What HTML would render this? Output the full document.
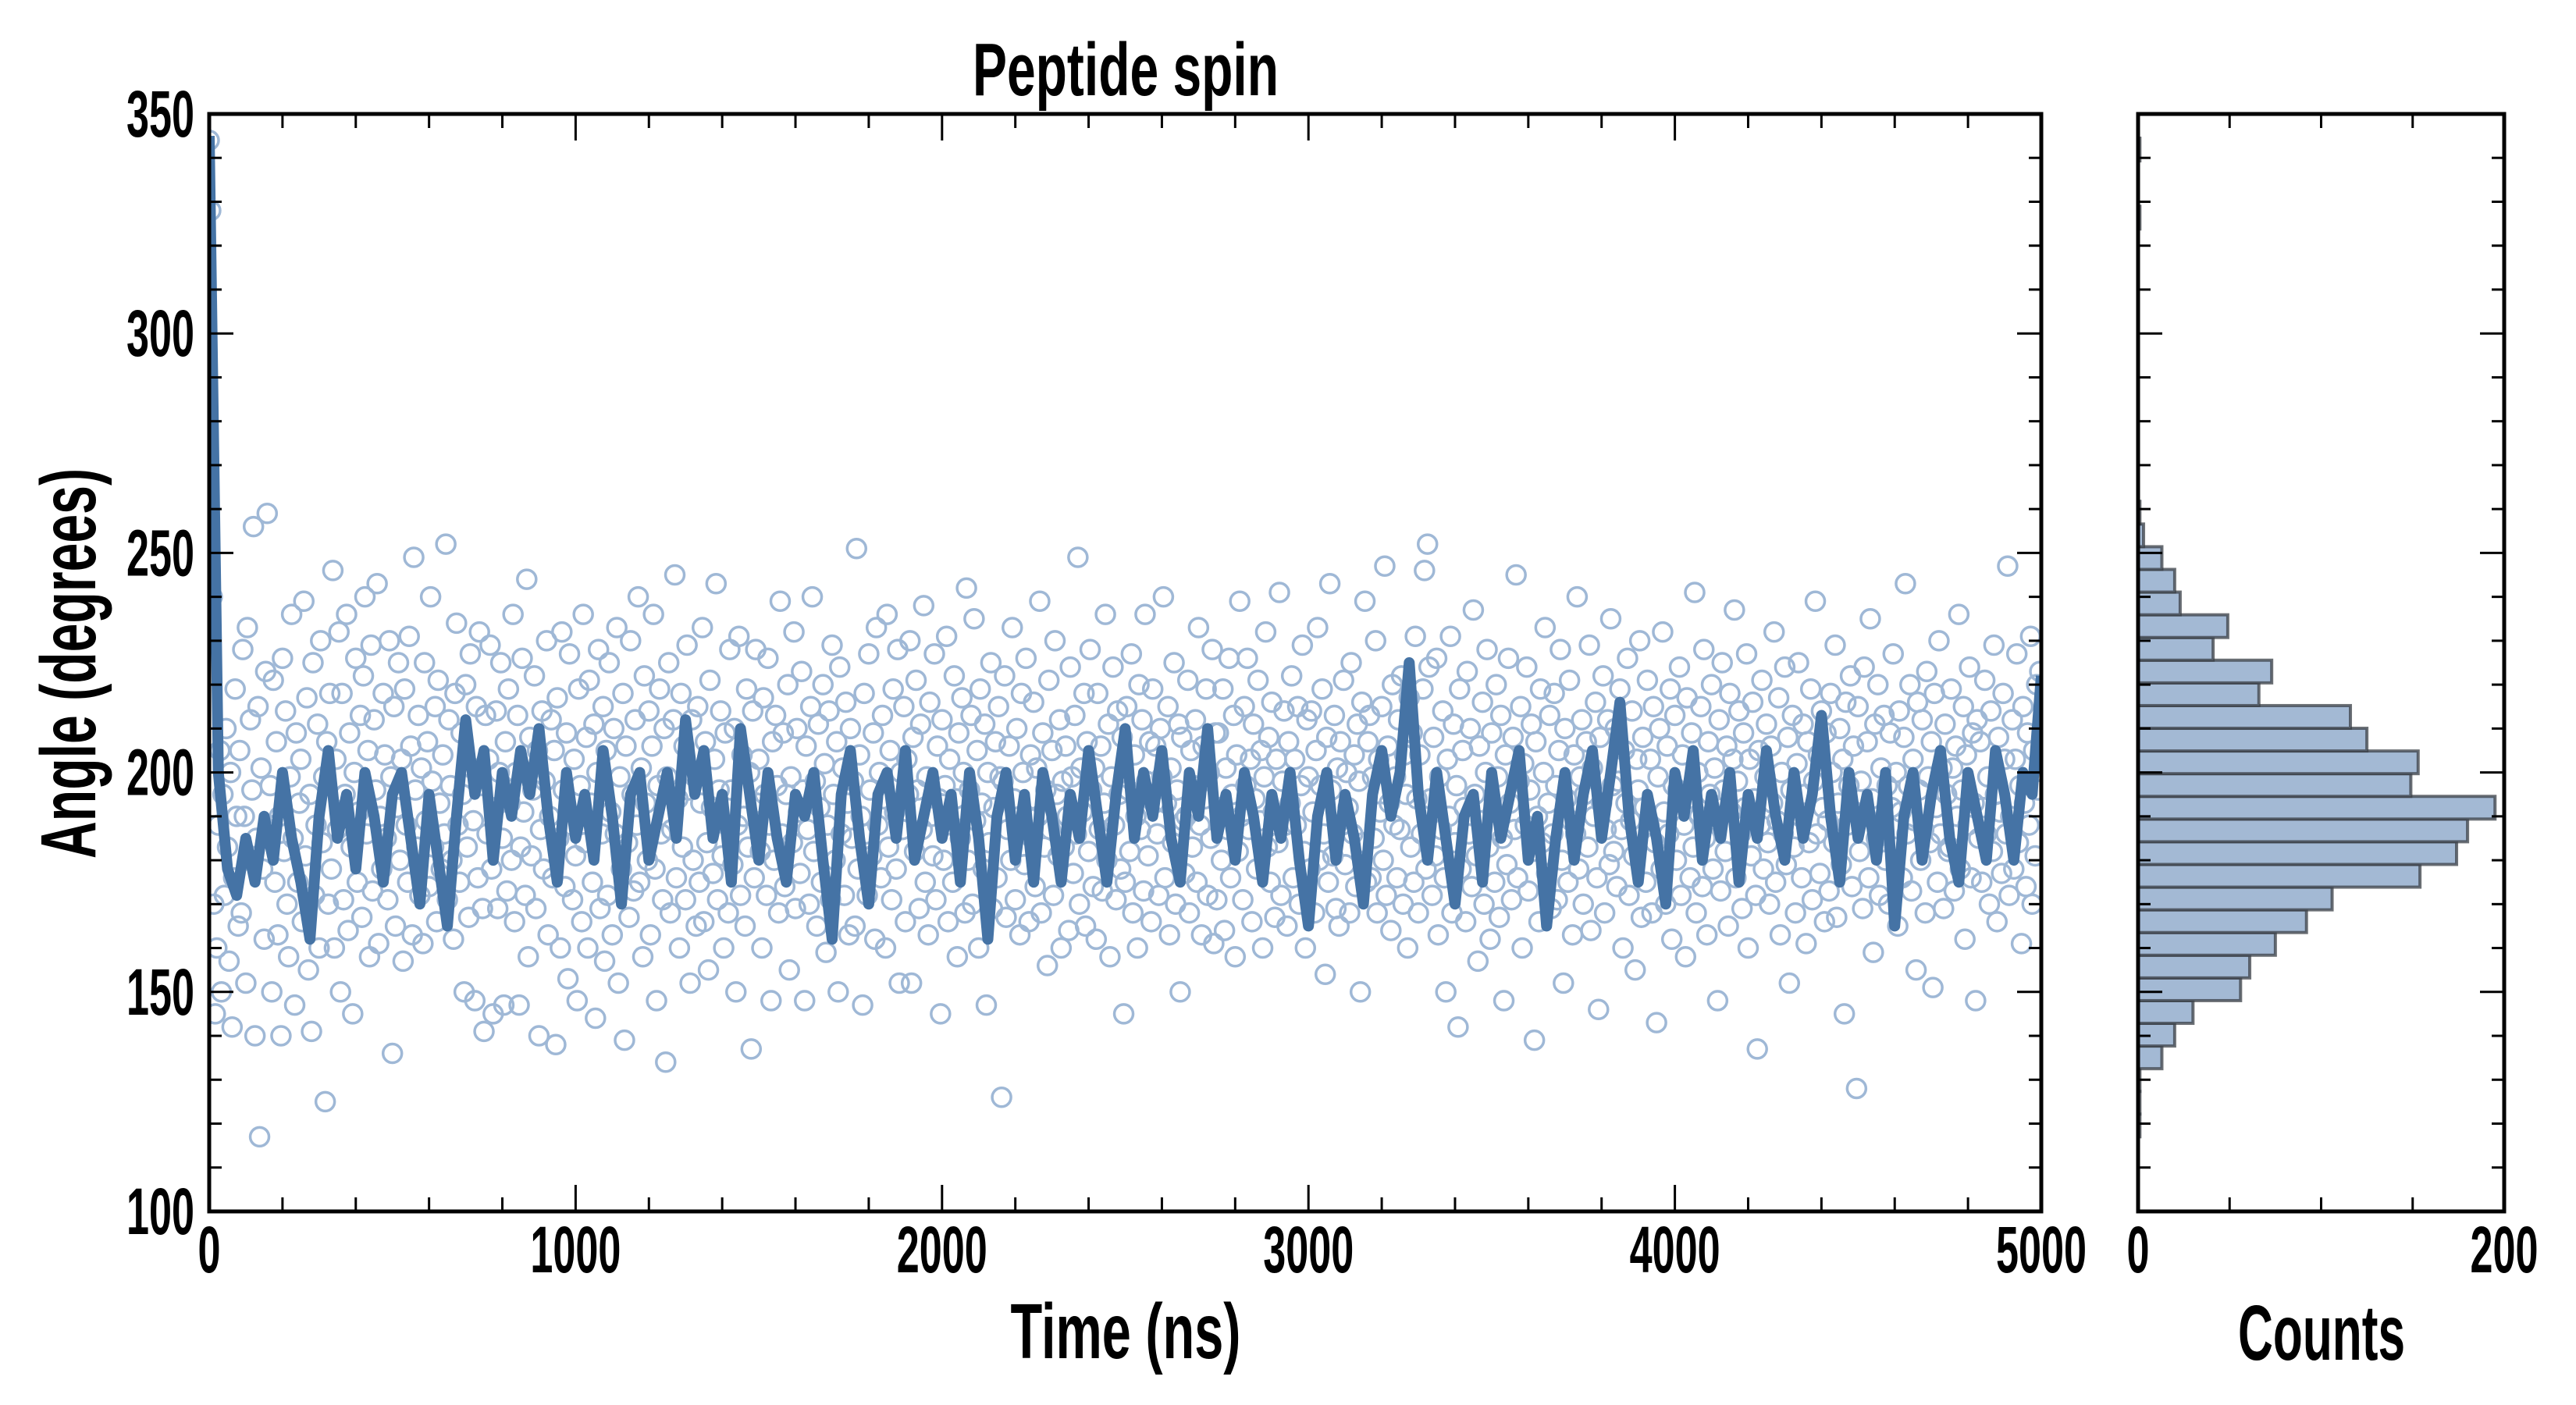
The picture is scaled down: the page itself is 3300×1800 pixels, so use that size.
<!DOCTYPE html>
<html><head><meta charset="utf-8"><title>Peptide spin</title>
<style>
html,body{margin:0;padding:0;background:#fff;}
svg{display:block;}
text{font-family:"Liberation Sans Narrow","Liberation Sans",sans-serif;font-weight:bold;fill:#000;}
</style></head>
<body>
<svg id="chart" width="3300" height="1800" viewBox="0 0 3300 1800" xmlns="http://www.w3.org/2000/svg">
<rect width="3300" height="1800" fill="#fff"/>
<g id="main"></g>
<g id="hist"></g>
<g id="labels">
<text x="1442" y="122" font-size="96" text-anchor="middle" textLength="392" lengthAdjust="spacingAndGlyphs">Peptide spin</text>
<text x="1442" y="1740" font-size="100" text-anchor="middle" textLength="295" lengthAdjust="spacingAndGlyphs">Time (ns)</text>
<text x="2974" y="1742" font-size="100" text-anchor="middle" textLength="214" lengthAdjust="spacingAndGlyphs">Counts</text>
<text transform="translate(122,850) rotate(-90)" font-size="100" text-anchor="middle" textLength="500" lengthAdjust="spacingAndGlyphs">Angle (degrees)</text>
</g>
</svg>
<script>
const scatterValues = [
344,328,240,170,145,160,188,205,150,195,172,210,183,157,200,142,176,219,190,165,
205,168,228,190,152,233,180,212,196,256,140,185,215,117,201,178,162,223,259,188,
197,150,221,175,207,163,190,140,226,182,214,170,158,199,236,185,147,209,175,193,
203,166,239,181,217,155,195,141,225,172,188,211,160,230,184,199,125,207,170,218,
178,246,160,203,187,232,150,218,171,195,236,164,209,183,145,200,226,175,191,213,
167,222,240,186,205,158,229,173,212,196,243,161,190,178,218,204,185,171,230,199,
136,215,165,192,225,180,203,157,219,188,175,231,206,163,249,196,183,213,172,201,
161,225,189,207,174,240,198,183,215,166,221,193,178,204,186,252,171,212,197,180,
162,218,234,188,175,209,195,150,220,183,167,227,201,189,148,215,176,232,197,169,
141,213,186,203,229,178,145,192,214,169,200,225,185,147,207,173,219,193,180,236,
166,200,213,147,183,226,191,172,244,158,208,181,196,222,169,205,140,187,214,178,
198,230,163,190,212,176,205,138,217,185,160,232,196,174,209,153,227,188,171,203,
181,148,219,197,166,236,184,208,160,221,193,175,211,144,200,228,169,186,215,157,
205,172,225,191,163,210,186,233,152,199,178,218,139,206,184,167,230,195,173,212,
188,240,175,201,158,222,193,180,214,163,206,236,178,148,197,219,186,171,210,134,
199,225,168,187,212,245,176,194,160,218,183,206,171,229,196,152,212,180,199,165,
215,175,193,233,166,207,184,155,221,192,177,203,243,171,196,214,181,160,209,188,
168,228,196,179,210,150,188,231,172,204,190,165,219,183,200,137,214,176,228,193,
203,182,160,217,195,172,226,188,148,207,180,213,197,168,239,186,209,174,195,220,
155,199,184,232,169,210,191,177,223,196,148,206,187,170,215,240,182,198,165,211,
192,175,220,202,159,188,214,171,229,195,180,207,150,224,186,201,172,216,193,163,
210,185,198,165,251,178,204,190,147,218,186,172,227,196,181,209,162,233,188,200,
176,213,194,160,236,183,205,171,219,191,178,228,152,200,187,215,166,203,195,230,
152,208,182,221,196,169,211,187,238,175,199,163,216,190,181,227,171,206,194,145,
212,180,197,231,166,203,188,175,222,194,158,209,185,217,200,168,242,180,196,213,
170,235,189,205,160,219,193,178,211,147,200,184,225,169,192,207,176,215,199,126,
198,222,167,187,206,180,233,194,171,210,188,163,218,200,179,226,190,166,204,185,
216,174,201,190,239,168,209,183,196,156,221,187,205,172,230,195,181,212,160,198,
183,206,190,164,224,199,177,213,186,249,170,201,191,218,165,207,182,228,196,174,
201,162,218,187,206,173,193,236,180,211,158,199,224,188,171,214,195,178,208,145,
175,215,196,182,227,168,204,190,160,220,187,212,173,236,198,181,207,166,219,193,
206,186,172,210,199,240,176,193,215,163,201,184,225,170,196,211,150,208,189,177,
190,221,168,205,183,197,212,175,233,188,163,206,194,219,172,200,185,228,161,209,
171,209,192,180,219,164,201,187,226,176,195,213,158,204,182,239,190,171,215,197,
226,187,203,166,211,194,178,221,189,205,160,199,232,183,208,175,216,191,167,203,
184,241,172,198,214,188,165,207,193,222,176,203,188,215,170,197,229,182,160,212,
199,178,214,191,168,205,233,180,197,219,186,154,208,175,243,196,181,213,169,201,
165,207,188,221,179,200,192,168,225,186,204,174,211,198,150,216,184,239,175,207,
213,176,199,185,230,168,203,191,215,180,247,172,206,193,164,220,188,199,176,212,
187,222,170,204,195,160,217,183,209,175,231,194,168,204,186,219,246,178,252,224,
194,172,208,181,226,163,199,187,214,176,150,203,190,231,168,211,184,197,142,219,
178,205,192,166,223,186,210,174,237,195,181,157,206,189,216,170,200,228,183,162,
209,191,175,220,199,167,213,185,148,204,179,226,193,171,208,187,245,176,198,215,
160,202,188,224,173,196,211,182,139,207,190,166,219,184,200,233,177,193,213,169,
186,218,197,171,205,228,180,152,210,194,175,221,189,163,204,186,240,178,199,212,
170,195,207,183,229,164,201,190,216,176,146,208,193,222,168,187,212,179,235,197,
182,210,174,198,219,187,160,205,193,226,172,189,214,181,155,203,196,230,167,208,
192,175,221,188,203,168,215,184,143,199,210,178,232,191,170,206,186,219,162,197,
213,180,196,224,172,204,188,158,217,194,176,209,183,241,168,200,190,215,174,228,
185,163,207,195,220,178,201,189,148,212,173,225,196,182,206,165,218,191,203,237,
176,198,214,186,169,209,192,227,160,203,181,216,194,172,137,205,188,221,178,199,
211,184,170,206,193,232,175,189,217,163,200,186,224,179,208,152,196,213,183,168,
202,225,190,176,211,195,161,207,184,219,171,198,239,186,204,177,214,192,166,209,
189,173,218,200,184,229,167,193,210,179,203,145,216,188,197,222,174,206,191,128,
215,182,198,169,224,190,207,176,235,194,159,211,185,220,172,201,188,213,180,197,
170,209,192,227,183,200,165,214,191,176,208,243,186,197,220,173,203,189,155,216,
196,180,212,187,168,223,199,184,207,151,218,192,175,230,186,201,169,211,195,182,
183,219,201,173,206,190,236,178,196,215,162,204,188,224,176,209,193,148,212,185,
207,175,192,221,186,199,170,214,182,229,195,166,208,191,177,218,203,186,247,172,
190,212,178,203,227,184,197,161,215,193,174,209,188,231,170,205,181,220,196,223
];
const lineValues = [
345,200,178,172,185,175,190,180,200,185,175,162,190,205,185,195,178,200,190,175,
195,200,185,170,195,180,165,190,212,195,205,180,200,190,205,195,210,190,175,200,
185,195,180,205,190,170,195,200,180,190,200,185,212,195,205,185,195,175,210,195,
180,200,185,175,195,190,200,180,162,195,205,185,170,195,200,185,205,180,190,200,
185,195,175,200,185,162,190,200,180,195,175,200,190,175,195,185,205,190,175,195,
210,185,200,190,205,185,175,200,190,210,185,195,180,200,190,175,195,185,200,180,
165,190,200,180,195,185,170,195,205,190,200,225,195,180,200,185,170,190,195,175,
200,185,195,205,180,190,165,185,200,180,195,205,185,200,216,190,175,195,185,170,
200,190,205,180,195,185,200,175,195,185,205,190,180,200,185,195,213,190,175,200,
185,195,180,200,165,190,200,180,195,205,185,175,200,190,180,205,195,180,200,195,
222
];
const histCounts = [1,1,1,13,20,30,56,61,75,92,106,154,174,180,195,149,153,125,116,66,73,41,49,23,20,13,3,1,0,0,0,0,0,0,0,0,0,0,0,0,1,0,0,1];
const binStart = 117;
const binWidth = 5.17;
const xTickLabels = [0,1000,2000,3000,4000,5000];
const yTickLabels = [100,150,200,250,300,350];
const histTickLabels = [0,200];

const NS = "http://www.w3.org/2000/svg";
const L = 268, R = 2615, T = 146, B = 1552;
const HL = 2739, HR = 3208;
const xScale = t => L + (t / 5000) * (R - L);
const yScale = v => B - (v - 100) / 250 * (B - T);
const cScale = c => HL + c / 200 * (HR - HL);

function mk(tag, attrs, parent) {
  const el = document.createElementNS(NS, tag);
  for (const k in attrs) el.setAttribute(k, attrs[k]);
  parent.appendChild(el);
  return el;
}
const main = document.getElementById('main');
const hist = document.getElementById('hist');

const defs = mk('defs', {}, main);
const cp = mk('clipPath', {id: 'clipMain'}, defs);
mk('rect', {x: L, y: T, width: R - L, height: B - T}, cp);

const sg = mk('g', {'clip-path': 'url(#clipMain)'}, main);


const nS = scatterValues.length;
scatterValues.forEach((v, i) => {
  const c = mk('circle', {cx: xScale(i * 5000 / nS), cy: yScale(v), r: 12, fill: 'none', stroke: '#9fb8d6', 'stroke-width': 3.5}, sg);
  
  
});

const nL = lineValues.length;
const d = lineValues.map((v, i) => (i ? 'L' : 'M') + xScale(i * 5000 / (nL - 1)).toFixed(1) + ' ' + yScale(v).toFixed(1)).join(' ');
const line = mk('path', {d: d, fill: 'none', stroke: '#4573a5', 'stroke-width': 14, 'stroke-linejoin': 'round', 'clip-path': 'url(#clipMain)'}, main);



histCounts.forEach((c, i) => {
  if (c <= 0) return;
  const y1 = yScale(binStart + (i + 1) * binWidth), y0 = yScale(binStart + i * binWidth);
  const r = mk('rect', {x: HL, y: y1, width: cScale(c) - HL, height: y0 - y1, fill: '#a3b9d4', stroke: '#3a3f45', 'stroke-opacity': 0.75, 'stroke-width': 4}, hist);
  
  
});

function ticksPanel(g, x0, x1, xMinorVals, xMajorVals, xs) {
  const tg = mk('g', {stroke: '#000', 'stroke-width': 3}, g);
  
  
  xMinorVals.forEach(v => { const x = xs(v);
    mk('line', {x1: x, x2: x, y1: B, y2: B - 18}, tg);
    mk('line', {x1: x, x2: x, y1: T, y2: T + 18}, tg); });
  xMajorVals.forEach(v => { const x = xs(v);
    mk('line', {x1: x, x2: x, y1: B, y2: B - 34}, tg);
    mk('line', {x1: x, x2: x, y1: T, y2: T + 34}, tg); });
  for (let v = 100; v <= 350; v += 10) {
    const y = yScale(v), len = (v % 50 === 0) ? 31 : 16;
    mk('line', {x1: x0, x2: x0 + len, y1: y, y2: y}, tg);
    mk('line', {x1: x1, x2: x1 - len, y1: y, y2: y}, tg);
  }
  const fr = mk('rect', {x: x0, y: T, width: x1 - x0, height: B - T, fill: 'none', stroke: '#000', 'stroke-width': 5}, g);
  
  
}
const mainMinor = [], mainMajor = [];
for (let t = 0; t <= 5000; t += 200) { if (t % 1000) mainMinor.push(t); }
xTickLabels.forEach(t => mainMajor.push(t));
ticksPanel(main, L, R, mainMinor, mainMajor, xScale);
ticksPanel(hist, HL, HR, [50, 100, 150], histTickLabels, cScale);

const lg = document.getElementById('labels');
xTickLabels.forEach(t => {
  const s = String(t);
  const tx = mk('text', {x: xScale(t), y: 1630, 'font-size': 84, 'text-anchor': 'middle', textLength: s.length * 29, lengthAdjust: 'spacingAndGlyphs'}, lg);
  tx.textContent = s;
  
  
});
yTickLabels.forEach(v => {
  const s = String(v);
  const tx = mk('text', {x: 249, y: yScale(v) + 29, 'font-size': 84, 'text-anchor': 'end', textLength: s.length * 29, lengthAdjust: 'spacingAndGlyphs'}, lg);
  tx.textContent = s;
  
  
});
histTickLabels.forEach(c => {
  const s = String(c);
  const tx = mk('text', {x: cScale(c), y: 1630, 'font-size': 84, 'text-anchor': 'middle', textLength: s.length * 29, lengthAdjust: 'spacingAndGlyphs'}, lg);
  tx.textContent = s;
  
  
});
</script>
</body></html>
